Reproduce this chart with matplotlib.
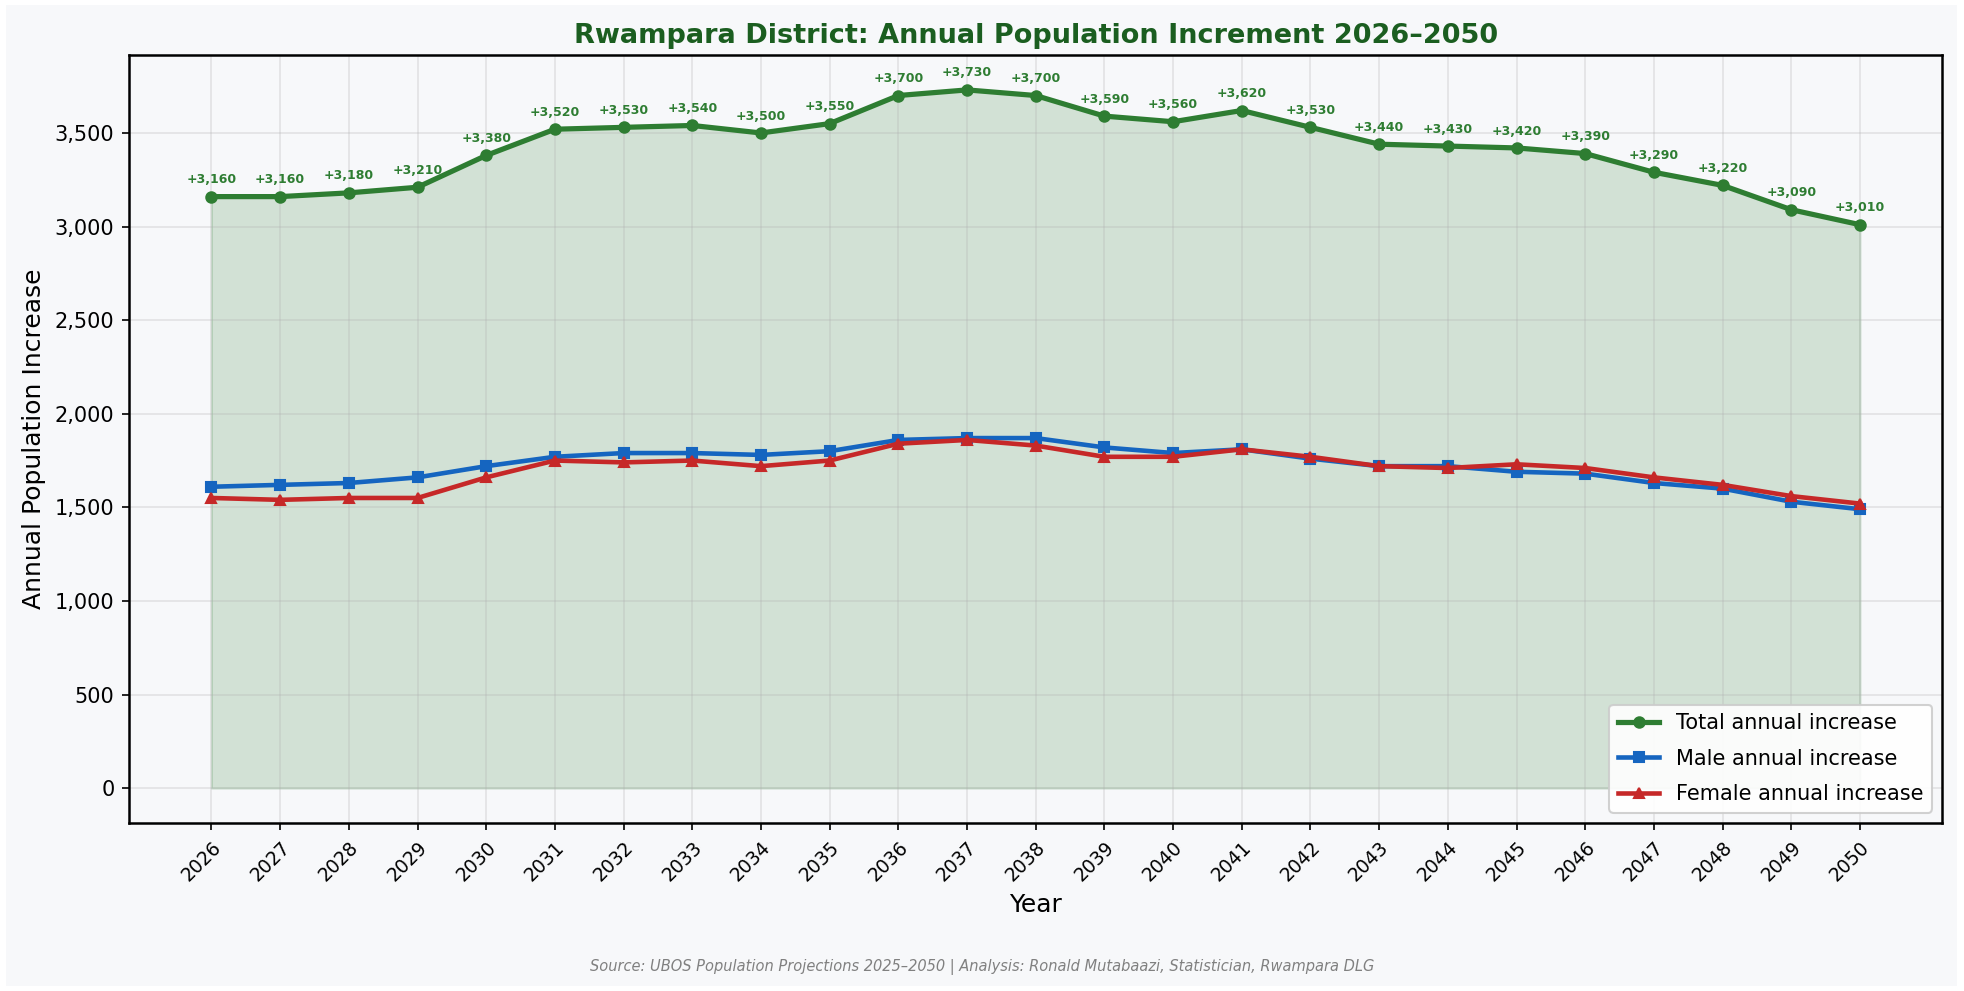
import matplotlib
matplotlib.use("Agg")
import matplotlib.pyplot as plt
from matplotlib.patches import Rectangle
from matplotlib.ticker import FuncFormatter

# DONNEES

annees = list(range(2026, 2051))
total = [3160, 3160, 3180, 3210, 3380, 3520, 3530, 3540, 3500, 3550,
         3700, 3730, 3700, 3590, 3560, 3620, 3530, 3440, 3430, 3420,
         3390, 3290, 3220, 3090, 3010]
hommes = [1610, 1620, 1630, 1660, 1720, 1770, 1790, 1790, 1780, 1800,
          1860, 1870, 1870, 1820, 1790, 1810, 1760, 1720, 1720, 1690,
          1680, 1630, 1600, 1530, 1490]
femmes = [1550, 1540, 1550, 1550, 1660, 1750, 1740, 1750, 1720, 1750,
          1840, 1860, 1830, 1770, 1770, 1810, 1770, 1720, 1710, 1730,
          1710, 1660, 1620, 1560, 1520]

vert = "#2e7d32"
bleu = "#1565c0"
rouge = "#c62828"
fond = "#f7f8fa"

# FIGURE

fig = plt.figure(figsize=(1964 / 150, 991 / 150), dpi=150, facecolor="white")
fig.patches.append(Rectangle((6 / 1964, 5 / 991), 1951 / 1964, 981 / 991,
                             transform=fig.transFigure, facecolor=fond,
                             edgecolor="none", zorder=-10))
ax = fig.add_axes([0.0657, 0.1695, 0.9233, 0.775])
ax.set_facecolor(fond)

ax.fill_between(annees, 0, total, color=vert, alpha=0.18, zorder=1)
ax.plot(annees, total, color=vert, lw=2.5, marker="o", markersize=5,
        label="Total annual increase", zorder=3)
ax.plot(annees, hommes, color=bleu, lw=2.2, marker="s", markersize=5,
        label="Male annual increase", zorder=3)
ax.plot(annees, femmes, color=rouge, lw=2.2, marker="^", markersize=5,
        label="Female annual increase", zorder=3)

for a, v in zip(annees, total):
    ax.annotate(f"+{v:,}", (a, v), xytext=(0, 5), textcoords="offset points",
                ha="center", va="bottom", fontsize=6, fontweight="bold",
                color=vert)

ax.set_title("Rwampara District: Annual Population Increment 2026\u20132050",
             fontsize=13, fontweight="bold", color="#1b5e20", pad=6)
ax.set_xlabel("Year", fontsize=12)
ax.set_ylabel("Annual Population Increase", fontsize=12)
ax.set_xticks(annees)
ax.set_xticklabels([str(a) for a in annees], rotation=45, ha="right",
                   rotation_mode="anchor", fontsize=9)
ax.tick_params(axis="y", labelsize=10)
ax.yaxis.set_major_formatter(FuncFormatter(lambda x, p: f"{x:,.0f}"))
ax.grid(True, alpha=0.3)
for s in ax.spines.values():
    s.set_linewidth(1.2)

ax.legend(loc="lower right", fontsize=10, framealpha=0.9, labelspacing=0.75)

fig.text(0.5, 0.020, "Source: UBOS Population Projections 2025\u20132050 | Analysis: Ronald Mutabaazi, Statistician, Rwampara DLG",
         ha="center", fontsize=7, style="italic", color="gray")

plt.savefig("out.png", dpi=150, facecolor="white")
print("Graphique sauvegarde")
